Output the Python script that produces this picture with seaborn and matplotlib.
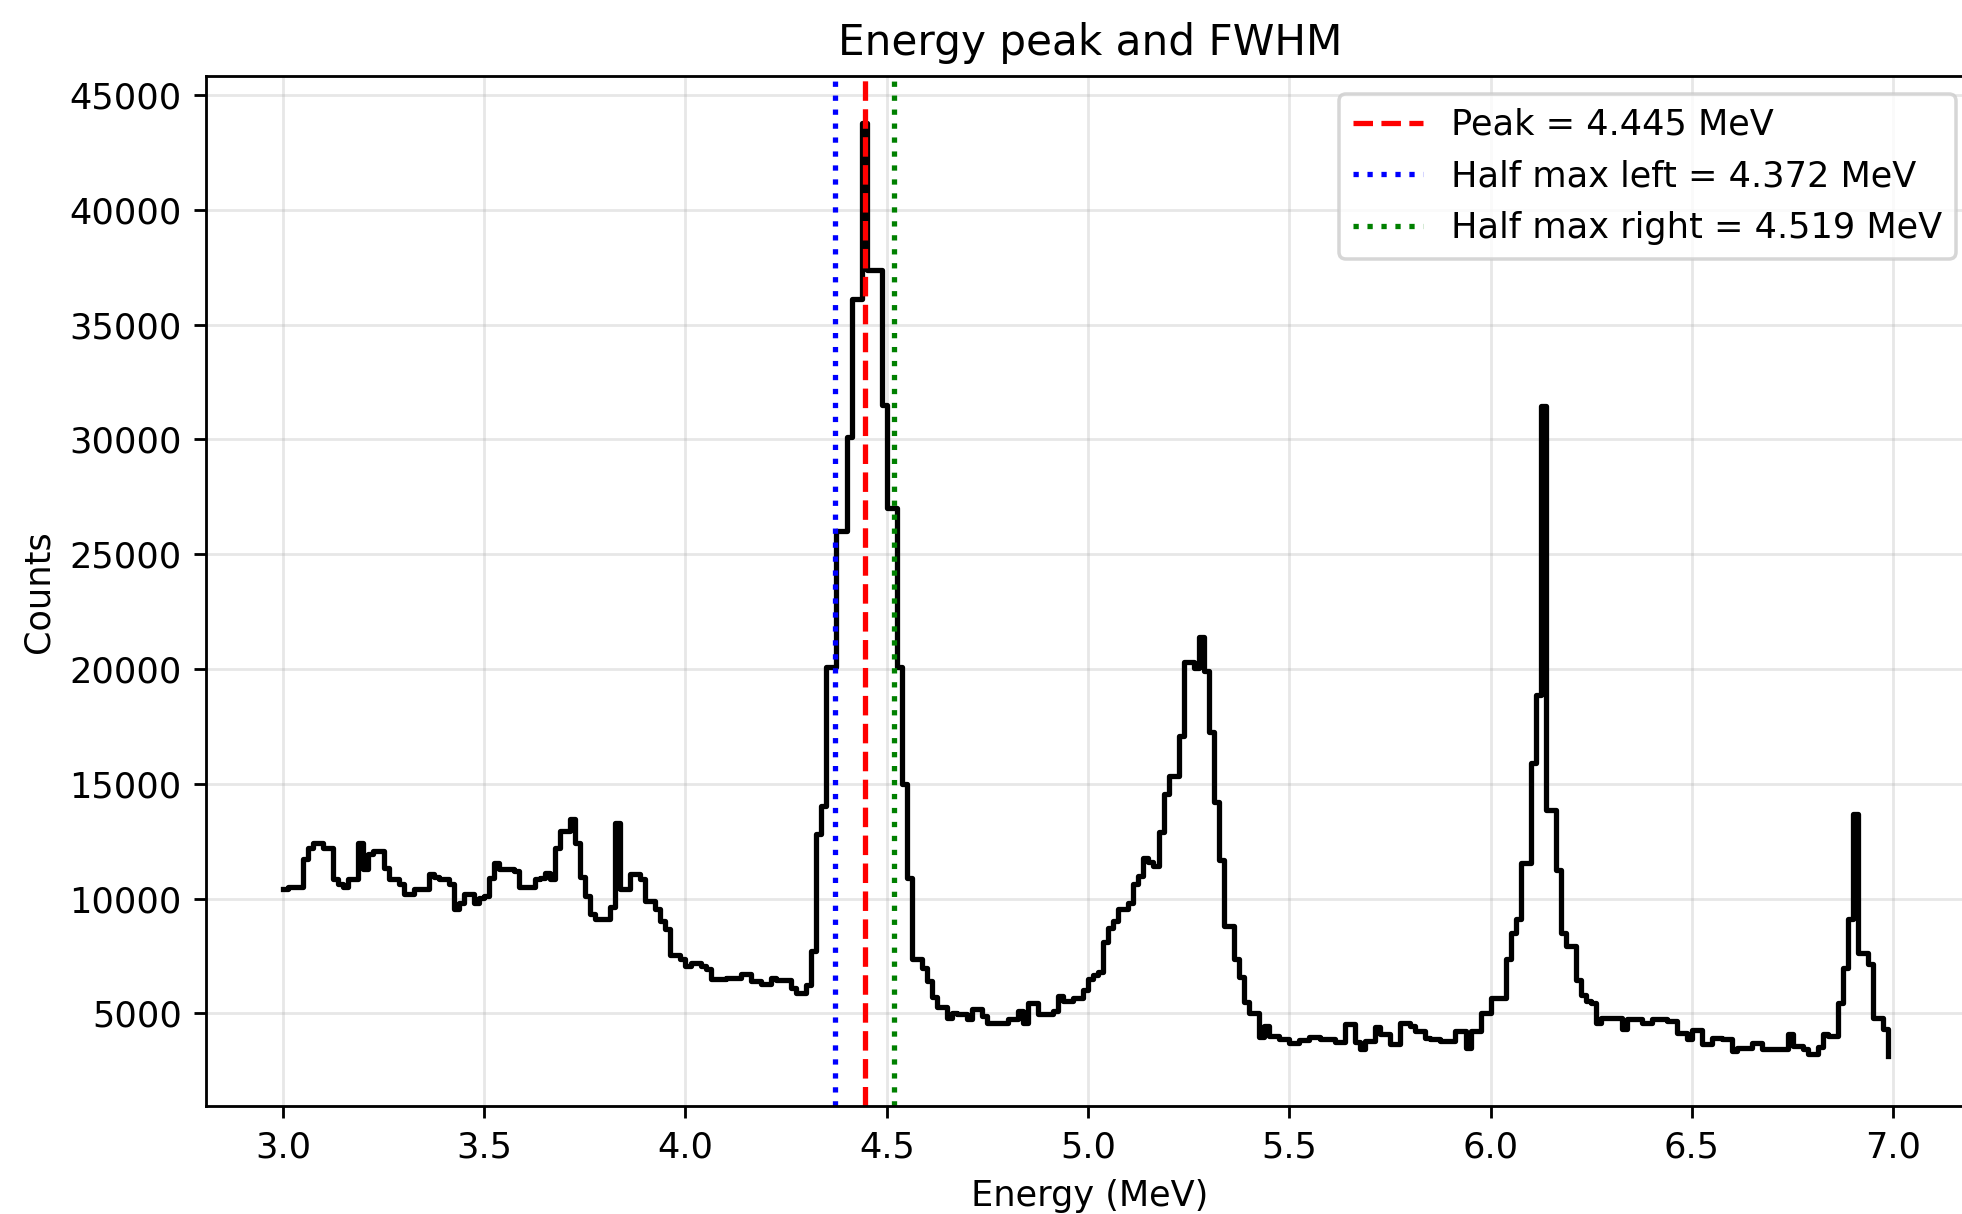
import numpy as np
import pandas as pd
import matplotlib
matplotlib.use('Agg')
import matplotlib.pyplot as plt
import seaborn as sns

# Spectrum counts, one value per channel (3.0 MeV upwards, 12.5 keV channels)
bin_start = 3.0
bin_width = 0.0125
counts = [
    10430, 10520, 10520, 10520, 11735, 12215, 12400, 12400, 12215, 12215,
    10835, 10620, 10520, 10835, 10835, 12430, 11270, 11925, 12070, 12070,
    11345, 10835, 10835, 10650, 10180, 10180, 10420, 10420, 10420, 11050,
    10950, 10835, 10835, 10620, 9560, 9820, 10180, 10180, 9820, 10040,
    10110, 10910, 11530, 11300, 11300, 11300, 11200, 10520, 10520, 10520,
    10835, 10910, 11100, 10865, 12215, 12940, 12940, 13450, 12430, 10950,
    10110, 9310, 9120, 9120, 9120, 9645, 13300, 10430, 10430, 11050,
    11050, 10835, 9890, 9890, 9530, 9020, 8690, 7525, 7525, 7380,
    7060, 7205, 7205, 7060, 6915, 6480, 6480, 6480, 6550, 6550,
    6550, 6700, 6700, 6410, 6410, 6260, 6260, 6550, 6450, 6450,
    6450, 6120, 5900, 5900, 6220, 7710, 12800, 14050, 20100, 20100,
    26000, 26000, 30100, 36100, 36100, 43780, 37400, 37400, 37400, 31500,
    27000, 27000, 20100, 15000, 10900, 7370, 7370, 6960, 6415, 5730,
    5270, 5270, 4780, 5000, 4956, 4956, 4738, 5203, 5203, 4883,
    4593, 4593, 4593, 4593, 4738, 4738, 5100, 4600, 5464, 5464,
    4956, 4956, 4956, 5100, 5754, 5537, 5537, 5680, 5680, 6000,
    6500, 6650, 6800, 8100, 8700, 9045, 9550, 9550, 9810, 10640,
    11000, 11770, 11600, 11440, 12890, 14560, 15360, 15360, 17100, 20290,
    20290, 20030, 21380, 19930, 17270, 14200, 11660, 8800, 8800, 7350,
    6580, 5490, 5025, 5025, 3970, 4450, 4015, 4015, 3867, 3867,
    3693, 3693, 3838, 3838, 3984, 3984, 3867, 3867, 3867, 3751,
    3751, 4521, 4521, 3751, 3432, 3795, 3795, 4419, 4085, 4085,
    3650, 3650, 4593, 4593, 4448, 4230, 4230, 3940, 3867, 3867,
    3795, 3795, 3795, 4230, 4230, 3505, 4230, 4230, 5029, 5029,
    5680, 5680, 5680, 7370, 8500, 9090, 11530, 11530, 15900, 18870,
    31460, 13880, 13880, 11240, 8500, 7920, 7920, 6460, 5800, 5540,
    5464, 4593, 4811, 4811, 4811, 4811, 4332, 4767, 4767, 4767,
    4593, 4593, 4767, 4767, 4767, 4666, 4666, 4157, 4157, 3867,
    4274, 4274, 3649, 3649, 3939, 3939, 3867, 3867, 3359, 3504,
    3504, 3504, 3693, 3693, 3460, 3460, 3460, 3460, 3460, 4085,
    3577, 3577, 3432, 3214, 3214, 3548, 4080, 4010, 4010, 5460,
    6990, 9090, 13670, 7640, 7640, 7130, 4810, 4810, 4300, 3140,
]

peak_energy = 4.445
half_left = 4.372
half_right = 4.519

energies = bin_start + bin_width * np.arange(len(counts))
df = pd.DataFrame({'Energy': energies, 'Counts': counts})

dpi = 253
fig = plt.figure(figsize=(1962 / dpi, 1214 / dpi), dpi=dpi)
# axes run slightly past the right edge, as in the cropped original
ax = fig.add_axes([0.1052, 0.089, 0.9008, 0.8481])

sns.lineplot(data=df, x='Energy', y='Counts', color='black', linewidth=1.5,
             drawstyle='steps-post', ax=ax)

ax.axvline(peak_energy, color='r', linestyle='--', label=f'Peak = {peak_energy:.3f} MeV')
ax.axvline(half_left, color='b', linestyle=':', label=f'Half max left = {half_left:.3f} MeV')
ax.axvline(half_right, color='g', linestyle=':', label=f'Half max right = {half_right:.3f} MeV')

ax.set_xlim(2.81, 7.2)
ax.set_ylim(967, 45817)
ax.set_title('Energy peak and FWHM')
ax.set_xlabel('Energy (MeV)')
ax.set_ylabel('Counts')
ax.grid(True, alpha=0.3)
ax.legend(loc='upper right')

fig.savefig('out.png', dpi=dpi)
